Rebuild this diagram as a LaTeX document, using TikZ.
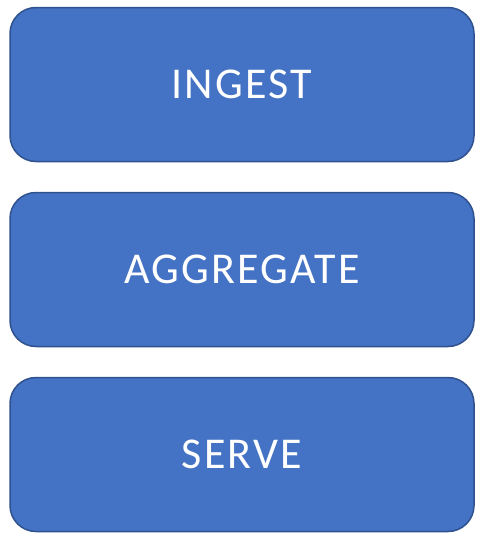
\documentclass[tikz,border=0pt]{standalone}
\usepackage{fontspec}
\setmainfont{Carlito}
\usepackage{xcolor}
\usepackage{tikz}
\usetikzlibrary{positioning}
\definecolor{stagefill}{HTML}{4472C4}
\definecolor{stageedge}{HTML}{2F528F}

\begin{document}
\begin{tikzpicture}[
  node distance=29.5pt,
  stagebox/.style={draw=stageedge, line width=1.5pt, fill=stagefill, rounded corners=26pt, align=center, minimum height=154pt, minimum width=464pt, text=white, font=\fontsize{44}{52}\selectfont\addfontfeature{LetterSpace=5}}
]
\useasboundingbox (0,0) rectangle (481pt,-541pt);
\node[stagebox] (ingest) at (242pt,-84.5pt) {INGEST};
\node[stagebox, below=of ingest] (aggregate) {AGGREGATE};
\node[stagebox, below=of aggregate] (serve) {SERVE};
\end{tikzpicture}
\end{document}
